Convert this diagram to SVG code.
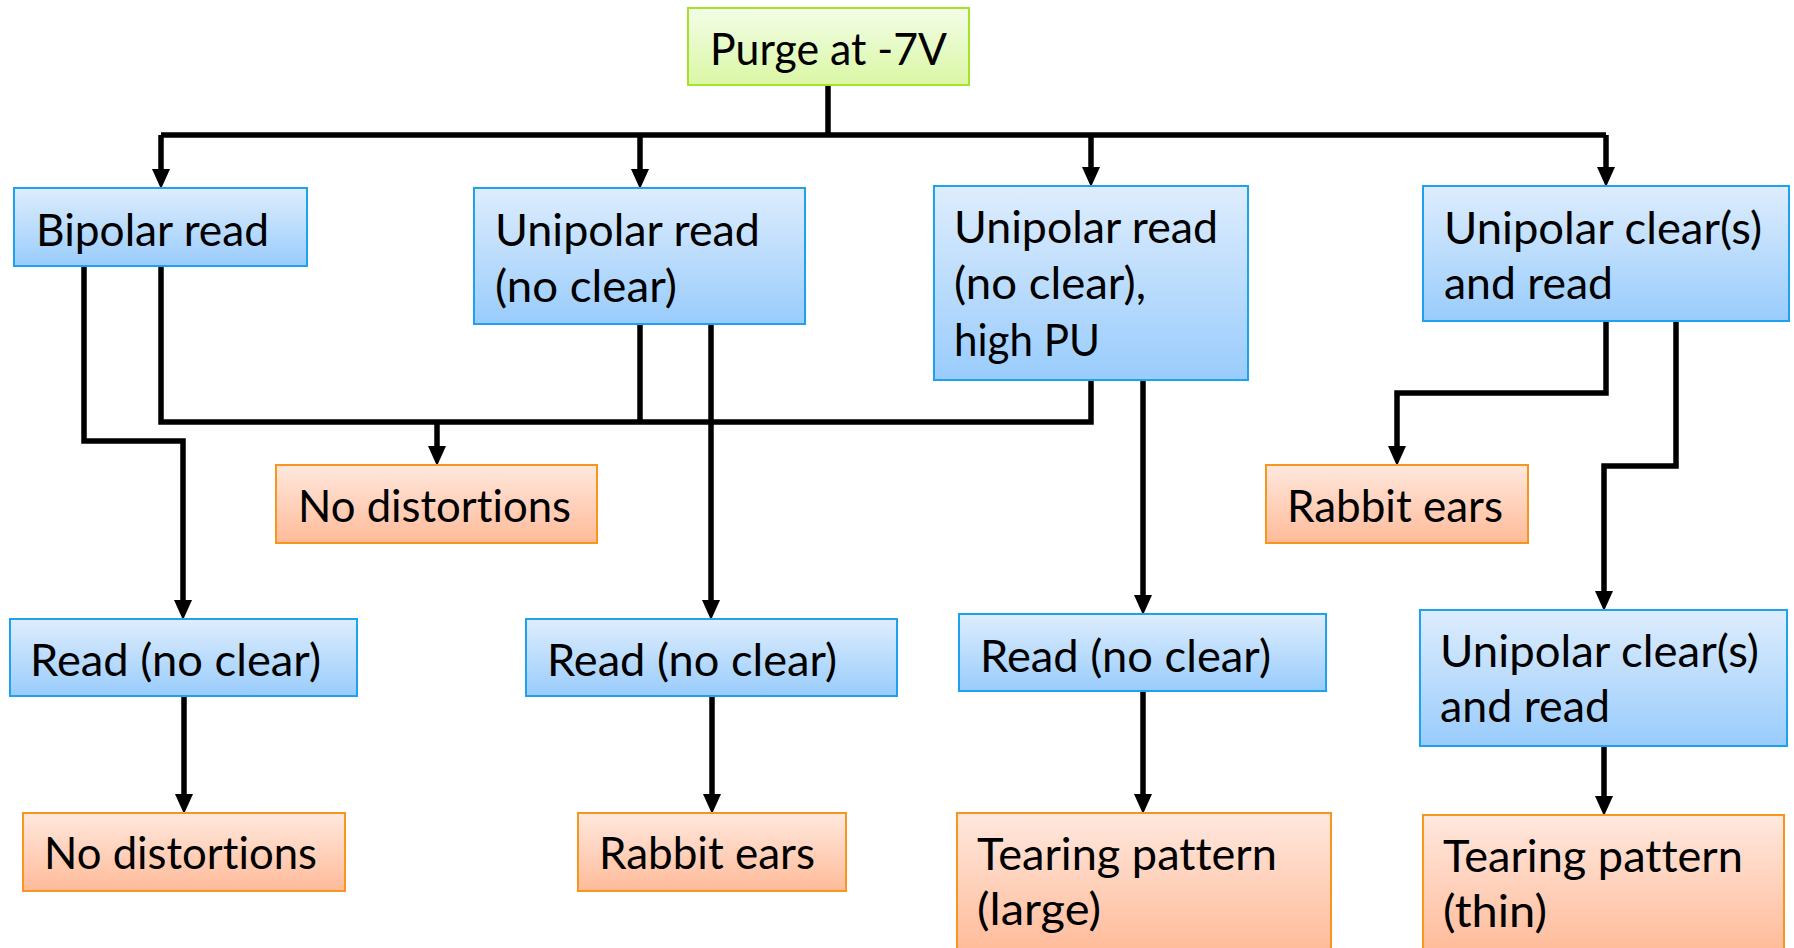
<svg xmlns="http://www.w3.org/2000/svg" width="1794" height="948" viewBox="0 0 1794 948">
<defs>
<linearGradient id="gBlue" x1="0" y1="0" x2="0" y2="1"><stop offset="0" stop-color="#DEEDFD"/><stop offset="1" stop-color="#99CCFC"/></linearGradient>
<linearGradient id="gOrange" x1="0" y1="0" x2="0" y2="1"><stop offset="0" stop-color="#FFE8DE"/><stop offset="1" stop-color="#FFBB99"/></linearGradient>
<linearGradient id="gGreen" x1="0" y1="0" x2="0" y2="1"><stop offset="0" stop-color="#F3FDE8"/><stop offset="1" stop-color="#DAF7A4"/></linearGradient>
<marker id="arr" markerUnits="userSpaceOnUse" markerWidth="20" markerHeight="20" refX="1" refY="9" orient="auto" viewBox="0 0 20 18">
<path d="M0,0 L20,9 L0,18 Z" fill="#000"/>
</marker>
<style>
.blue{fill:url(#gBlue);stroke:#1EA2EE;stroke-width:2}
.orange{fill:url(#gOrange);stroke:#F7951E;stroke-width:2}
.green{fill:url(#gGreen);stroke:#A6E22C;stroke-width:2}
text{font-family:Lato,"Open Sans","Liberation Sans",sans-serif;font-size:44px;fill:#000;font-variant-ligatures:none}
.c{fill:none;stroke:#000;stroke-width:5.5;stroke-linejoin:miter}
.a{marker-end:url(#arr)}
</style>
</defs>
<g id="connectors">
<path class="c" d="M828,85 V135"/>
<path class="c" d="M161,135 H1606"/>
<path class="c a" d="M161,135 V170"/>
<path class="c a" d="M640,135 V170"/>
<path class="c a" d="M1091,135 V168"/>
<path class="c a" d="M1606,135 V168"/>
<path class="c a" d="M84,266 V441 H183 V601"/>
<path class="c" d="M161,266 V422 H1091 V380"/>
<path class="c" d="M640,324 V422"/>
<path class="c a" d="M437,422 V447"/>
<path class="c a" d="M711,324 V601"/>
<path class="c a" d="M1143,380 V596"/>
<path class="c a" d="M1606,321 V393 H1397 V447"/>
<path class="c a" d="M1676,321 V466 H1604 V592"/>
<path class="c a" d="M184,696 V795"/>
<path class="c a" d="M712,696 V795"/>
<path class="c a" d="M1143,691 V795"/>
<path class="c a" d="M1604,746 V797"/>
</g>
<g id="purge"><rect class="green" x="688" y="8" width="281" height="77"/><text x="710" y="65" textLength="237" lengthAdjust="spacingAndGlyphs">Purge at -7V</text></g>
<g id="bipolar"><rect class="blue" x="14" y="188" width="293" height="78"/><text x="36" y="246" textLength="233" lengthAdjust="spacingAndGlyphs">Bipolar read</text></g>
<g id="unipolar1"><rect class="blue" x="474" y="188" width="331" height="136"/><text x="495" y="246" textLength="265" lengthAdjust="spacingAndGlyphs">Unipolar read</text><text x="495" y="302" textLength="182" lengthAdjust="spacingAndGlyphs">(no clear)</text></g>
<g id="unipolar2"><rect class="blue" x="934" y="186" width="314" height="194"/><text x="954" y="243" textLength="264" lengthAdjust="spacingAndGlyphs">Unipolar read</text><text x="954" y="299" textLength="192" lengthAdjust="spacingAndGlyphs">(no clear),</text><text x="954" y="356" textLength="146" lengthAdjust="spacingAndGlyphs">high PU</text></g>
<g id="uniclear1"><rect class="blue" x="1423" y="186" width="366" height="135"/><text x="1444" y="244" textLength="318" lengthAdjust="spacingAndGlyphs">Unipolar clear(s)</text><text x="1444" y="299" textLength="169" lengthAdjust="spacingAndGlyphs">and read</text></g>
<g id="nodist1"><rect class="orange" x="276" y="465" width="321" height="78"/><text x="298" y="522" textLength="273" lengthAdjust="spacingAndGlyphs">No distortions</text></g>
<g id="rabbit1"><rect class="orange" x="1266" y="465" width="262" height="78"/><text x="1287" y="522" textLength="216" lengthAdjust="spacingAndGlyphs">Rabbit ears</text></g>
<g id="read1"><rect class="blue" x="10" y="619" width="347" height="77"/><text x="30" y="676" textLength="291" lengthAdjust="spacingAndGlyphs">Read (no clear)</text></g>
<g id="read2"><rect class="blue" x="526" y="619" width="371" height="77"/><text x="547" y="676" textLength="290" lengthAdjust="spacingAndGlyphs">Read (no clear)</text></g>
<g id="read3"><rect class="blue" x="959" y="614" width="367" height="77"/><text x="980" y="672" textLength="291" lengthAdjust="spacingAndGlyphs">Read (no clear)</text></g>
<g id="uniclear2"><rect class="blue" x="1420" y="610" width="367" height="136"/><text x="1440" y="667" textLength="319" lengthAdjust="spacingAndGlyphs">Unipolar clear(s)</text><text x="1440" y="722" textLength="170" lengthAdjust="spacingAndGlyphs">and read</text></g>
<g id="nodist2"><rect class="orange" x="23" y="813" width="322" height="78"/><text x="44" y="869" textLength="273" lengthAdjust="spacingAndGlyphs">No distortions</text></g>
<g id="rabbit2"><rect class="orange" x="578" y="813" width="268" height="78"/><text x="599" y="869" textLength="216" lengthAdjust="spacingAndGlyphs">Rabbit ears</text></g>
<g id="tearing1"><rect class="orange" x="957" y="813" width="374" height="140"/><text x="977" y="870" textLength="300" lengthAdjust="spacingAndGlyphs">Tearing pattern</text><text x="977" y="925" textLength="124" lengthAdjust="spacingAndGlyphs">(large)</text></g>
<g id="tearing2"><rect class="orange" x="1423" y="815" width="361" height="138"/><text x="1443" y="872" textLength="300" lengthAdjust="spacingAndGlyphs">Tearing pattern</text><text x="1443" y="927" textLength="104" lengthAdjust="spacingAndGlyphs">(thin)</text></g>
</svg>
